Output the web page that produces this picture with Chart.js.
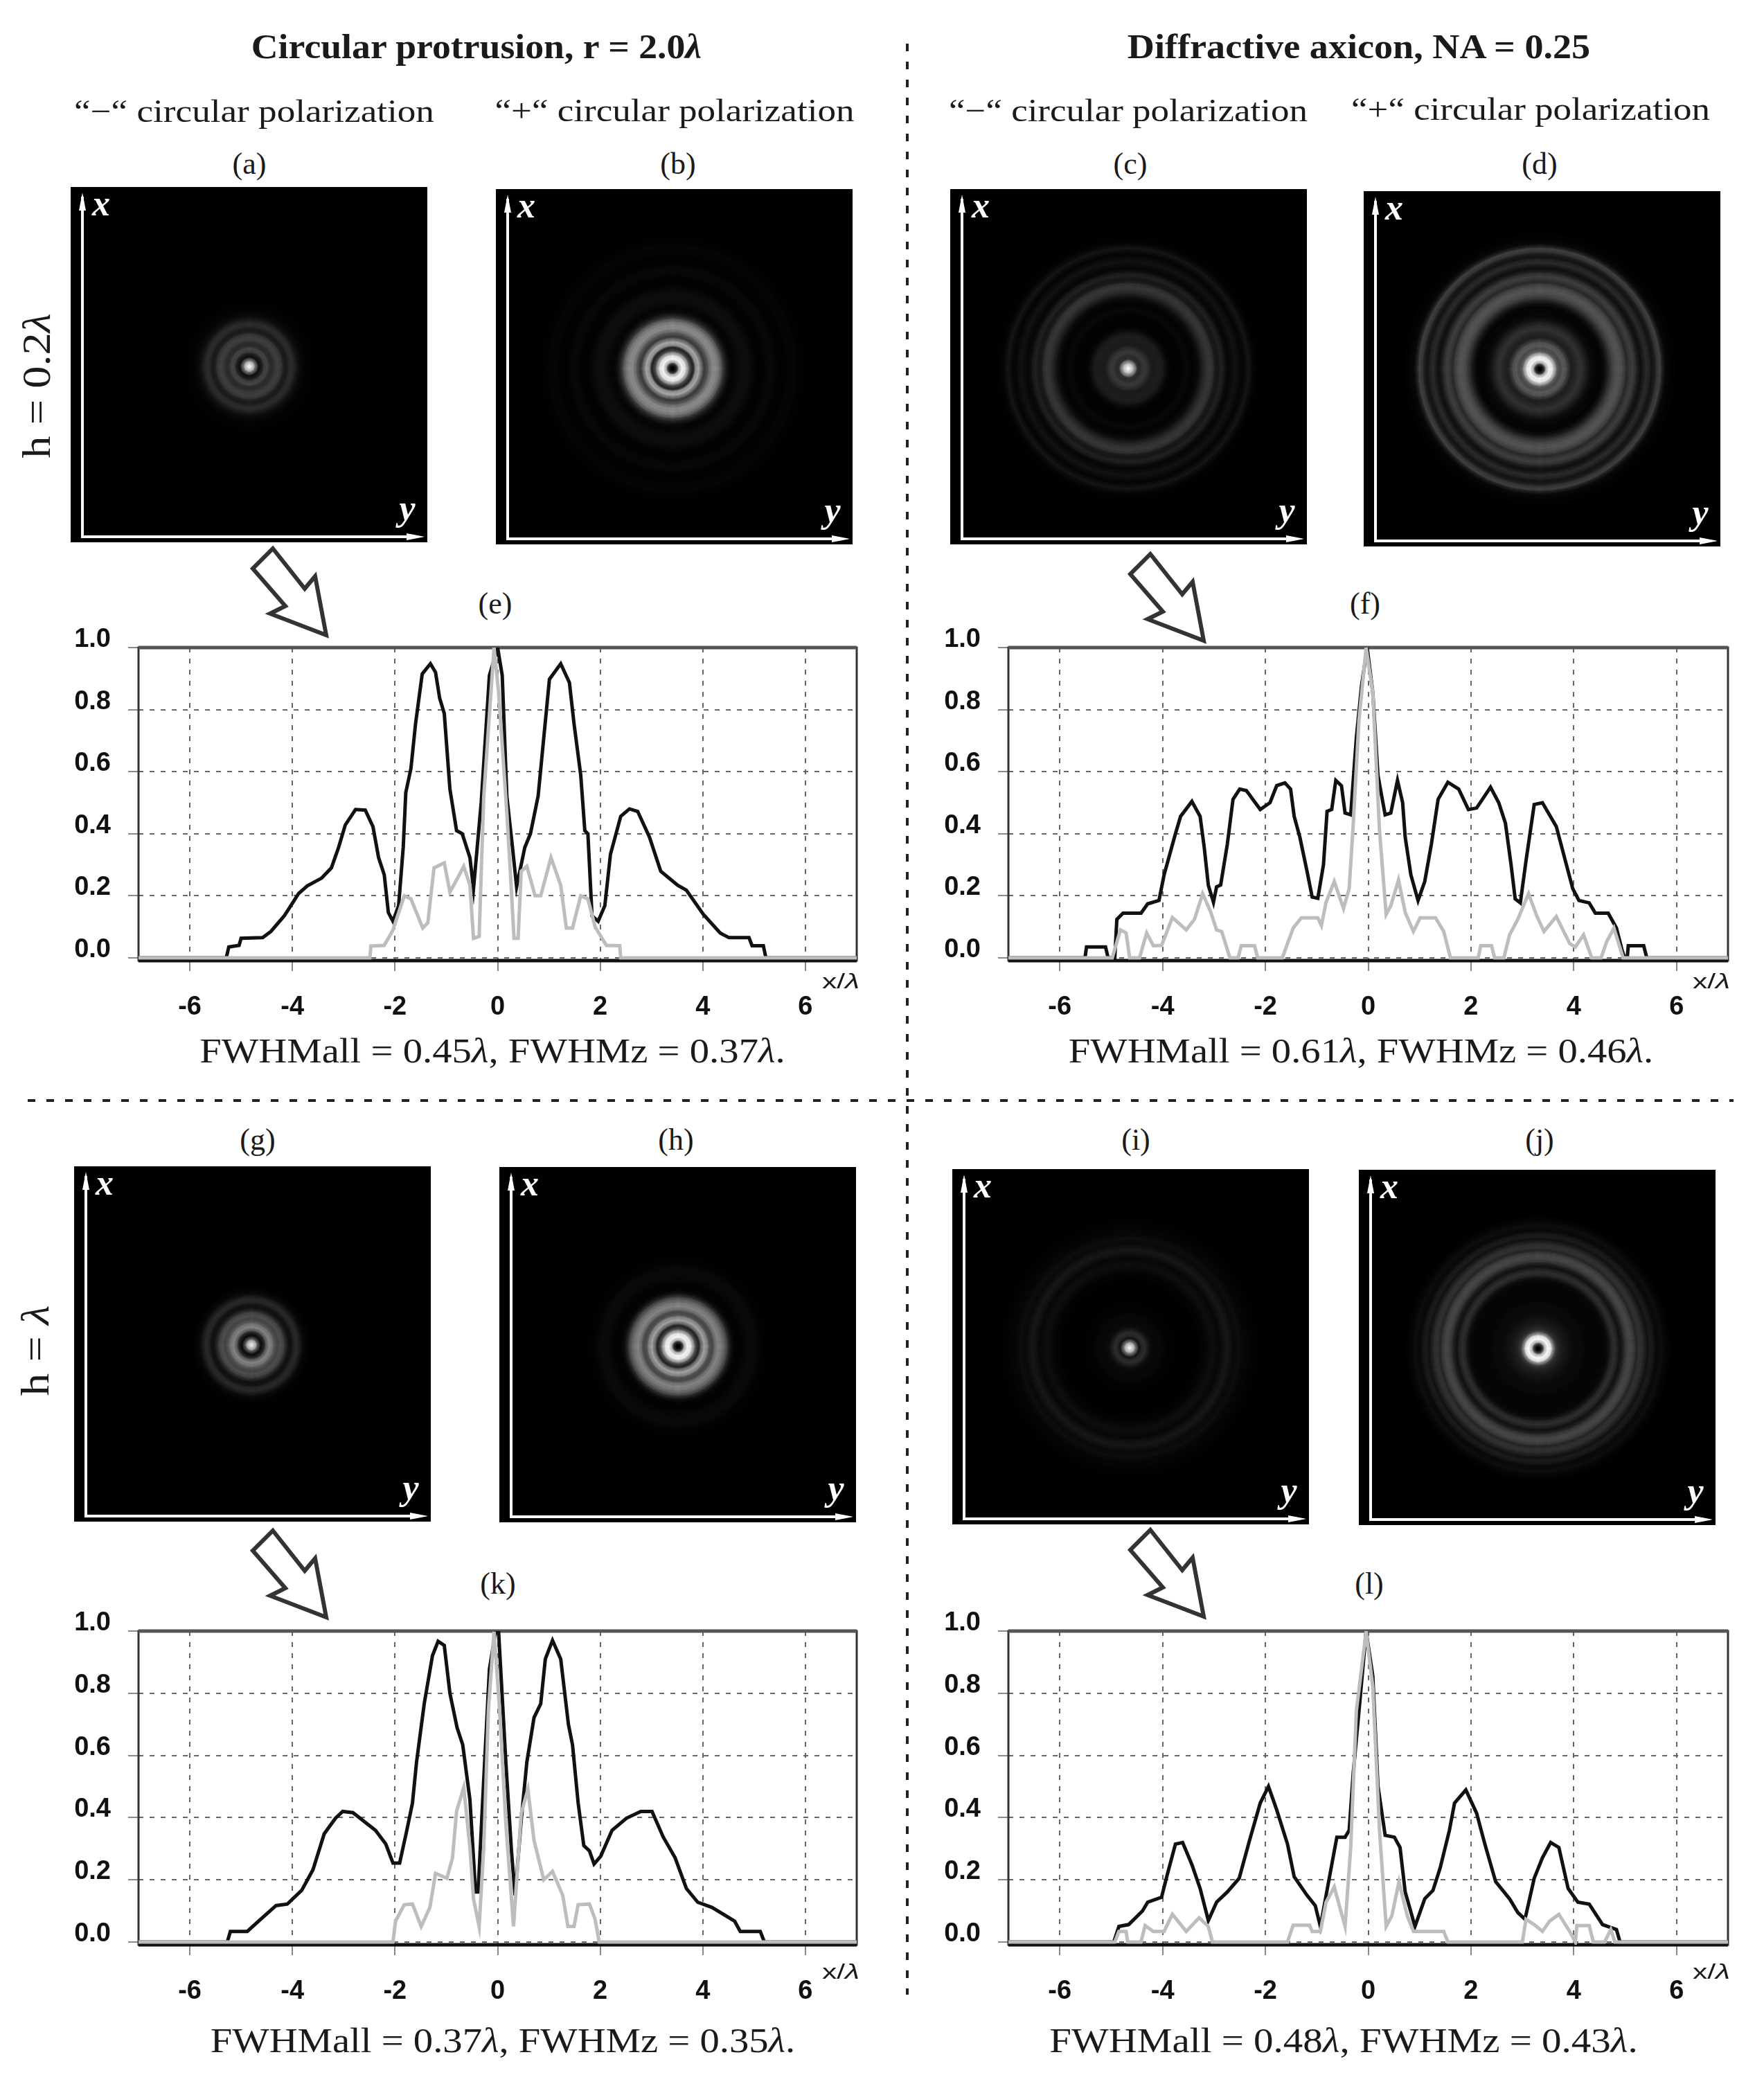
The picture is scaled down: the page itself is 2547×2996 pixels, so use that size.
<!DOCTYPE html>
<html>
<head>
<meta charset="utf-8">
<title>Focal spots</title>
<script src="https://cdn.jsdelivr.net/npm/chart.js@4"></script>
<style>
  html, body { margin: 0; background: #fff; }
  #page { position: relative; width: 2547px; height: 2996px; overflow: hidden; }
  #page canvas { position: absolute; }
  .txt { position: absolute; white-space: nowrap; line-height: 1; color: #1a1a1a; font-family: "Liberation Serif", serif; }
  .panel { position: absolute; background: #000; overflow: hidden; }
  .panel canvas { filter: blur(1.2px); }
  svg { position: absolute; left: 0; top: 0; }
</style>
</head>
<body>
<div id="page"></div>
<script>
const xTicks = [-6, -4, -2, 0, 2, 4, 6];
const yTicks = [0, 0.2, 0.4, 0.6, 0.8, 1];

// profiles (e), (f), (k), (l): total intensity and z component
const eAllX = [-7,-5.29,-5.24,-5.04,-5,-4.58,-4.42,-4.16,-3.88,-3.71,-3.43,-3.24,-3.1,-2.97,-2.77,-2.58,-2.43,-2.32,-2.21,-2.13,-2.04,-1.93,-1.84,-1.79,-1.69,-1.6,-1.47,-1.31,-1.21,-1.13,-1.04,-0.93,-0.8,-0.69,-0.54,-0.47,-0.32,-0.16,-0.04,0,0.09,0.18,0.29,0.37,0.53,0.64,0.79,1.01,1.23,1.4,1.49,1.62,1.7,1.76,1.84,1.96,2.09,2.2,2.4,2.57,2.73,2.96,3.18,3.51,3.68,4.01,4.34,4.51,4.9,4.96,5.18,5.23,7];
const eAll = [0,0,0.035,0.04,0.063,0.065,0.085,0.135,0.207,0.232,0.257,0.29,0.356,0.428,0.478,0.476,0.423,0.323,0.268,0.146,0.118,0.168,0.356,0.533,0.61,0.754,0.915,0.948,0.92,0.837,0.788,0.544,0.41,0.4,0.323,0.223,0.5,0.91,0.976,1,0.91,0.52,0.356,0.229,0.356,0.4,0.522,0.898,0.948,0.887,0.754,0.589,0.41,0.4,0.135,0.118,0.168,0.334,0.456,0.48,0.472,0.389,0.279,0.234,0.218,0.14,0.08,0.065,0.065,0.039,0.039,0,0];
const eZX = [-7,-2.49,-2.47,-2.21,-2.04,-1.82,-1.69,-1.46,-1.36,-1.24,-1.04,-0.93,-0.82,-0.66,-0.54,-0.47,-0.36,-0.27,-0.07,0.02,0.18,0.24,0.32,0.4,0.46,0.57,0.73,0.84,1.04,1.23,1.34,1.46,1.62,1.76,1.9,2.12,2.38,2.4,7];
const eZ = [0,0,0.038,0.04,0.09,0.2,0.19,0.096,0.113,0.29,0.306,0.212,0.245,0.295,0.235,0.063,0.069,0.52,1,0.855,0.467,0.3,0.063,0.063,0.279,0.295,0.2,0.2,0.323,0.234,0.096,0.096,0.2,0.19,0.1,0.04,0.039,0,0];

const fAllX = [-7,-5.51,-5.48,-5.11,-5.06,-4.93,-4.89,-4.77,-4.42,-4.29,-4.07,-3.97,-3.75,-3.65,-3.43,-3.27,-3.19,-3.11,-3.01,-2.95,-2.87,-2.74,-2.63,-2.5,-2.37,-2.1,-1.91,-1.78,-1.62,-1.51,-1.44,-1.33,-1.19,-1.09,-0.98,-0.87,-0.8,-0.71,-0.63,-0.52,-0.45,-0.34,-0.23,-0.13,-0.02,0.09,0.19,0.25,0.33,0.44,0.57,0.67,0.72,0.83,0.97,1.1,1.23,1.36,1.55,1.76,1.95,2.11,2.38,2.54,2.67,2.78,2.86,2.96,3.07,3.23,3.39,3.66,3.82,3.98,4.1,4.3,4.42,4.67,4.83,4.94,4.99,5.04,5.06,5.36,5.42,7];
const fAll = [0,0,0.035,0.035,0,0,0.124,0.144,0.144,0.174,0.185,0.268,0.4,0.456,0.504,0.456,0.356,0.234,0.179,0.229,0.235,0.367,0.511,0.544,0.539,0.478,0.5,0.555,0.564,0.544,0.456,0.389,0.279,0.196,0.192,0.3,0.472,0.478,0.572,0.555,0.467,0.461,0.71,0.876,1,0.855,0.589,0.533,0.461,0.467,0.572,0.5,0.389,0.268,0.185,0.246,0.367,0.511,0.566,0.544,0.478,0.483,0.55,0.5,0.434,0.3,0.19,0.177,0.312,0.494,0.5,0.423,0.323,0.223,0.185,0.177,0.144,0.144,0.096,0.024,0,0,0.039,0.039,0,0];
const fZX = [-7,-4.98,-4.82,-4.71,-4.64,-4.45,-4.31,-4.18,-4.02,-3.81,-3.54,-3.38,-3.22,-3.06,-2.95,-2.85,-2.69,-2.53,-2.47,-2.21,-2.15,-1.67,-1.46,-1.3,-0.98,-0.91,-0.82,-0.66,-0.48,-0.37,-0.29,-0.18,-0.04,0.09,0.22,0.35,0.44,0.59,0.72,0.88,1.01,1.31,1.47,1.6,2.14,2.19,2.4,2.46,2.64,2.75,2.91,3.12,3.28,3.42,3.66,3.92,4.03,4.19,4.35,4.53,4.64,4.78,4.96,7];
const fZ = [0,0,0.09,0.08,0,0,0.08,0.039,0.04,0.13,0.09,0.124,0.207,0.146,0.09,0.085,0,0,0.039,0.039,0,0,0.096,0.129,0.129,0.104,0.179,0.246,0.159,0.223,0.434,0.765,1,0.855,0.41,0.14,0.168,0.251,0.146,0.085,0.129,0.129,0.085,0,0,0.039,0.039,0,0,0.074,0.124,0.207,0.135,0.085,0.133,0.046,0.035,0.074,0,0,0.052,0.096,0,0];

const kAllX = [-7,-5.27,-5.21,-4.88,-4.66,-4.32,-4.1,-3.82,-3.6,-3.38,-3.16,-3.02,-2.82,-2.38,-2.18,-2.04,-1.91,-1.77,-1.66,-1.58,-1.43,-1.27,-1.16,-1.04,-0.93,-0.79,-0.68,-0.54,-0.43,-0.38,-0.27,-0.16,-0.04,0.02,0.16,0.27,0.34,0.46,0.57,0.71,0.84,0.93,1.07,1.23,1.38,1.46,1.57,1.68,1.79,1.88,2.01,2.23,2.51,2.79,3.01,3.23,3.46,3.68,3.9,4.18,4.62,4.73,5.12,5.2,7];
const kAll = [0,0,0.034,0.034,0.067,0.117,0.122,0.166,0.232,0.348,0.398,0.42,0.416,0.359,0.315,0.254,0.254,0.359,0.447,0.579,0.767,0.921,0.967,0.954,0.8,0.689,0.634,0.458,0.161,0.161,0.524,0.877,0.998,0.996,0.579,0.293,0.15,0.392,0.579,0.722,0.766,0.91,0.97,0.91,0.7,0.634,0.447,0.31,0.293,0.251,0.276,0.359,0.398,0.42,0.42,0.337,0.271,0.172,0.128,0.111,0.067,0.034,0.034,0,0];
const kZX = [-7,-2.04,-1.99,-1.82,-1.66,-1.49,-1.32,-1.21,-0.99,-0.88,-0.8,-0.66,-0.54,-0.47,-0.36,-0.27,-0.18,-0.07,0.04,0.16,0.31,0.46,0.59,0.71,0.9,1.07,1.27,1.37,1.49,1.57,1.79,1.9,1.98,7];
const kZ = [0,0,0.067,0.12,0.122,0.05,0.111,0.221,0.205,0.27,0.42,0.497,0.304,0.139,0.05,0.304,0.744,0.998,0.744,0.381,0.05,0.414,0.491,0.326,0.2,0.227,0.15,0.05,0.05,0.12,0.122,0.073,0,0];

const lAllX = [-7,-4.95,-4.85,-4.66,-4.39,-4.29,-4.02,-3.91,-3.75,-3.61,-3.43,-3.27,-3.11,-2.95,-2.74,-2.51,-2.31,-2.1,-1.94,-1.78,-1.57,-1.44,-1.19,-1.03,-0.93,-0.77,-0.61,-0.45,-0.37,-0.29,-0.16,-0.04,0.09,0.19,0.33,0.51,0.62,0.72,0.91,1.1,1.26,1.4,1.58,1.68,1.9,2.11,2.27,2.48,2.75,2.91,3.05,3.23,3.39,3.55,3.71,3.89,4.08,4.3,4.56,4.83,4.9,7];
const lAll = [0,0,0.05,0.056,0.1,0.128,0.144,0.216,0.315,0.32,0.249,0.172,0.069,0.128,0.161,0.205,0.326,0.447,0.5,0.425,0.315,0.21,0.15,0.117,0.05,0.194,0.337,0.337,0.359,0.546,0.777,0.998,0.855,0.502,0.343,0.337,0.304,0.161,0.05,0.139,0.166,0.238,0.359,0.447,0.489,0.414,0.315,0.194,0.139,0.095,0.073,0.205,0.271,0.32,0.304,0.172,0.128,0.122,0.056,0.04,0,0];
const lZX = [-7,-4.93,-4.85,-4.71,-4.68,-4.42,-4.34,-4.18,-3.97,-3.81,-3.54,-3.29,-3.11,-3.03,-1.57,-1.46,-1.14,-1.09,-0.93,-0.82,-0.66,-0.45,-0.34,-0.23,-0.04,0.09,0.22,0.35,0.46,0.6,0.76,0.88,1.47,1.55,3,3.07,3.23,3.39,3.53,3.71,3.92,4.03,4.06,4.3,4.38,4.6,4.72,4.8,7];
const lZ = [0,0,0.034,0.034,0,0,0.053,0.034,0.034,0.089,0.034,0.078,0.05,0,0,0.054,0.054,0.034,0.034,0.128,0.177,0.05,0.304,0.744,0.998,0.82,0.359,0.05,0.084,0.194,0.084,0.034,0.034,0,0,0.073,0.056,0.034,0.067,0.089,0.034,0,0.053,0.053,0,0,0.04,0,0];

// focal spot brightness (0-255) by radius, one value per ring, centre first
const ringStep = 4;
const spotA = [240,190,90,15,30,65,70,45,45,60,65,55,30,28,42,45,32,18,10,6,4,3,2,1];
const spotB = [0,40,190,250,235,160,65,35,150,170,115,60,80,115,140,140,125,95,50,25,10,5,6,10,13,14,14,13,9,5,3,2,3,5,7,8,7,4,2,2,2,4,5,6,5,3,2,1];
const spotC = [245,205,130,45,45,58,55,42,28,28,30,30,26,14,6,3,2,2,3,4,8,8,5,4,7,14,28,42,52,56,48,26,24,34,26,10,7,12,18,15,8,6,14,22,11,4,2,1];
const spotD = [0,40,190,250,240,170,90,75,92,85,55,32,35,42,50,45,35,22,12,8,6,5,5,14,30,52,70,82,86,80,65,42,55,64,50,28,16,28,44,36,20,28,55,65,28,8,5,3,2];
const spotG = [225,180,70,12,35,100,135,120,85,70,80,70,40,18,20,38,42,28,12,5,3,1];
const spotH = [0,40,195,250,240,165,70,35,115,165,140,80,75,115,135,125,105,75,35,12,4,3,3,5,7,9,10,10,8,5,3,2,1];
const spotI = [235,190,90,20,40,45,28,14,9,8,8,7,5,3,2,2,1,1,1,1,1,1,1,1,1,3,4,6,10,14,14,10,8,14,21,23,17,10,11,14,9,6,6,4,3,2,1];
const spotJ = [0,50,200,255,235,125,55,38,30,24,20,16,12,10,10,10,8,6,5,4,4,5,6,6,8,18,38,48,36,18,30,55,70,72,60,38,50,48,32,18,28,24,10,10,14,8,4,2];

const page = document.getElementById('page');
const SVGNS = 'http://www.w3.org/2000/svg';

function addText(html, cx, baseline, size, width, opts = {}) {
  const el = document.createElement('div');
  el.className = 'txt';
  el.innerHTML = html;
  el.style.fontSize = size + 'px';
  el.style.left = cx + 'px';
  el.style.top = (baseline - 0.8375 * size) + 'px';
  if (opts.bold) el.style.fontWeight = 'bold';
  if (opts.family) el.style.fontFamily = opts.family;
  if (opts.color) el.style.color = opts.color;
  (opts.parent || page).appendChild(el);
  const sx = width ? width / el.offsetWidth : 1;
  el.style.transform = `translateX(-50%) ${opts.rotate ? 'rotate(-90deg)' : ''} scaleX(${sx})`;
  return el;
}

// one focal spot: black panel, rings drawn as a nested doughnut, white axes
function addSpot(profile, x, y, cx, cy) {
  const w = 515, h = 513;
  const panel = document.createElement('div');
  panel.className = 'panel';
  panel.style.cssText = `left:${x}px;top:${y}px;width:${w}px;height:${h}px`;
  page.appendChild(panel);

  const size = 2 * ringStep * profile.length;
  const canvas = document.createElement('canvas');
  canvas.width = size;
  canvas.height = size;
  canvas.style.cssText = `left:${cx - x - size / 2}px;top:${cy - y - size / 2}px;width:${size}px;height:${size}px`;
  panel.appendChild(canvas);

  new Chart(canvas, {
    type: 'doughnut',
    data: {
      labels: ['ring'],
      datasets: [...profile].reverse().map(g => ({
        data: [1],
        backgroundColor: `rgb(${g},${g},${g})`,
        borderWidth: 0
      }))
    },
    options: {
      responsive: false,
      animation: false,
      devicePixelRatio: 1,
      cutout: 0,
      plugins: { legend: { display: false }, tooltip: { enabled: false } }
    }
  });

  const svg = document.createElementNS(SVGNS, 'svg');
  svg.setAttribute('width', w);
  svg.setAttribute('height', h);
  svg.innerHTML = `
    <path d="M17 14V505H500" fill="none" stroke="#fff" stroke-width="4"/>
    <path d="M17 8l-5 26h10z M511 505l-26 -5v10z" fill="#fff"/>`;
  panel.appendChild(svg);
  const axisFont = { bold: true, color: '#fff', parent: panel };
  addText('<i>x</i>', 44, 42, 52, 0, axisFont);
  addText('<i>y</i>', 486, 482, 52, 0, axisFont);
}

// frame round the plot area, drawn under the curves
const frame = {
  id: 'frame',
  beforeDatasetsDraw(chart) {
    const a = chart.chartArea, c = chart.ctx;
    c.save();
    c.strokeStyle = '#333';
    c.lineWidth = 3;
    c.strokeRect(a.left, a.top, a.right - a.left, a.bottom - a.top);
    c.strokeStyle = '#555';
    c.lineWidth = 5;
    c.beginPath();
    c.moveTo(a.left, a.top);
    c.lineTo(a.right, a.top);
    c.stroke();
    c.strokeStyle = '#111';
    c.beginPath();
    c.moveTo(a.left, a.bottom);
    c.lineTo(a.right, a.bottom);
    c.stroke();
    c.restore();
  }
};

function toPoints(xs, ys) {
  return xs.map((x, i) => ({ x, y: ys[i] }));
}

function addProfile(allX, all, zX, z, left, top, right, bottom) {
  const yW = 130, topPad = 50, xH = 110, rightPad = 10;
  const canvas = document.createElement('canvas');
  canvas.width = yW + (right - left) + rightPad;
  canvas.height = topPad + (bottom - top) + xH;
  canvas.style.cssText = `left:${left - yW}px;top:${top - topPad}px`;
  page.appendChild(canvas);

  const grid = { color: '#666', lineWidth: 2, tickColor: '#888', tickLength: 15, tickWidth: 2 };
  const border = { dash: [7, 9], color: '#333', width: 0 };
  const font = { family: '"Liberation Sans", sans-serif', weight: 'bold', size: 38, lineHeight: 0.6 };

  new Chart(canvas, {
    type: 'line',
    data: {
      datasets: [
        { label: 'z', data: toPoints(zX, z), borderColor: '#bdbdbd', borderWidth: 5, pointRadius: 0, tension: 0 },
        { label: 'all', data: toPoints(allX, all), borderColor: '#111', borderWidth: 5, pointRadius: 0, tension: 0 }
      ]
    },
    options: {
      responsive: false,
      animation: false,
      devicePixelRatio: 1,
      layout: { autoPadding: false, padding: { top: topPad, right: rightPad } },
      plugins: { legend: { display: false }, tooltip: { enabled: false } },
      scales: {
        x: {
          type: 'linear', min: -7, max: 7,
          afterBuildTicks: s => { s.ticks = xTicks.map(value => ({ value })); },
          afterFit: s => { s.height = xH; },
          grid, border,
          ticks: { color: '#111', font, padding: 41, maxRotation: 0, callback: v => String(v) }
        },
        y: {
          min: -0.009, max: 1,
          afterBuildTicks: s => { s.ticks = yTicks.map(value => ({ value })); },
          afterFit: s => { s.width = yW; },
          grid, border,
          ticks: { color: '#111', font, padding: 25, callback: v => [v.toFixed(1), ''] }
        }
      }
    },
    plugins: [frame]
  });
}

function addArrow(dx, dy) {
  const pts = [[394,792],[440,850],[455,832],[471,917],[390,886],[412,875],[365,821]];
  return `<polygon points="${pts.map(p => (p[0] + dx) + ',' + (p[1] + dy)).join(' ')}" fill="#fff" stroke="#333" stroke-width="6"/>`;
}

// headings
addText('Circular protrusion, r = 2.0<i>λ</i>', 688, 84, 50, 650, { bold: true });
addText('Diffractive axicon, NA = 0.25', 1962, 84, 50, 668, { bold: true });
addText('“−“ circular polarization', 367, 177, 46, 520);
addText('“+“ circular polarization', 974, 176, 46, 519);
addText('“−“ circular polarization', 1629, 176, 46, 518);
addText('“+“ circular polarization', 2210, 174, 46, 518);
addText('h = 0.2<i>λ</i>', 53, 577, 58, 209, { rotate: true });
addText('h = <i>λ</i>', 51, 1970, 58, 131, { rotate: true });

// panel letters
addText('(a)', 360, 252, 44);
addText('(b)', 979, 252, 44);
addText('(c)', 1632, 252, 44);
addText('(d)', 2223, 252, 44);
addText('(e)', 715, 887, 44);
addText('(f)', 1971, 887, 44);
addText('(g)', 372, 1661, 44);
addText('(h)', 976, 1661, 44);
addText('(i)', 1640, 1661, 44);
addText('(j)', 2223, 1661, 44);
addText('(k)', 719, 2302, 44);
addText('(l)', 1977, 2302, 44);

addSpot(spotA, 102, 270, 360, 529);
addSpot(spotB, 716, 273, 971, 532);
addSpot(spotC, 1372, 273, 1629, 532);
addSpot(spotD, 1969, 276, 2223, 533);
addSpot(spotG, 107, 1684, 363, 1942);
addSpot(spotH, 721, 1685, 979, 1944);
addSpot(spotI, 1375, 1688, 1631, 1946);
addSpot(spotJ, 1962, 1689, 2221, 1947);

addProfile(eAllX, eAll, eZX, eZ, 200, 935, 1237, 1387);
addProfile(fAllX, fAll, fZX, fZ, 1456, 935, 2495, 1387);
addProfile(kAllX, kAll, kZX, kZ, 200, 2355, 1237, 2808);
addProfile(lAllX, lAll, lZX, lZ, 1456, 2355, 2495, 2808);

// axis names and FWHM captions
const sans = { family: '"Liberation Sans", sans-serif' };
addText('x/<i>λ</i>', 1214, 1427, 30, 54, sans);
addText('x/<i>λ</i>', 2471, 1427, 30, 54, sans);
addText('x/<i>λ</i>', 1214, 2857, 30, 54, sans);
addText('x/<i>λ</i>', 2471, 2857, 30, 54, sans);
addText('FWHMall = 0.45<i>λ</i>, FWHMz = 0.37<i>λ</i>.', 711, 1534, 50, 846);
addText('FWHMall = 0.61<i>λ</i>, FWHMz = 0.46<i>λ</i>.', 1965, 1534, 50, 845);
addText('FWHMall = 0.37<i>λ</i>, FWHMz = 0.35<i>λ</i>.', 726, 2963, 50, 845);
addText('FWHMall = 0.48<i>λ</i>, FWHMz = 0.43<i>λ</i>.', 1940, 2963, 50, 850);

// separators and hollow arrows
const deco = document.createElementNS(SVGNS, 'svg');
deco.setAttribute('width', 2547);
deco.setAttribute('height', 2996);
deco.innerHTML = `
  <line x1="1310" y1="63" x2="1310" y2="2880" stroke="#222" stroke-width="4" stroke-dasharray="11 15"/>
  <line x1="40" y1="1589" x2="2503" y2="1589" stroke="#222" stroke-width="4" stroke-dasharray="11 16"/>
  ${addArrow(0, 0)}${addArrow(1267, 8)}${addArrow(0, 1418)}${addArrow(1267, 1417)}`;
page.appendChild(deco);
</script>
</body>
</html>
